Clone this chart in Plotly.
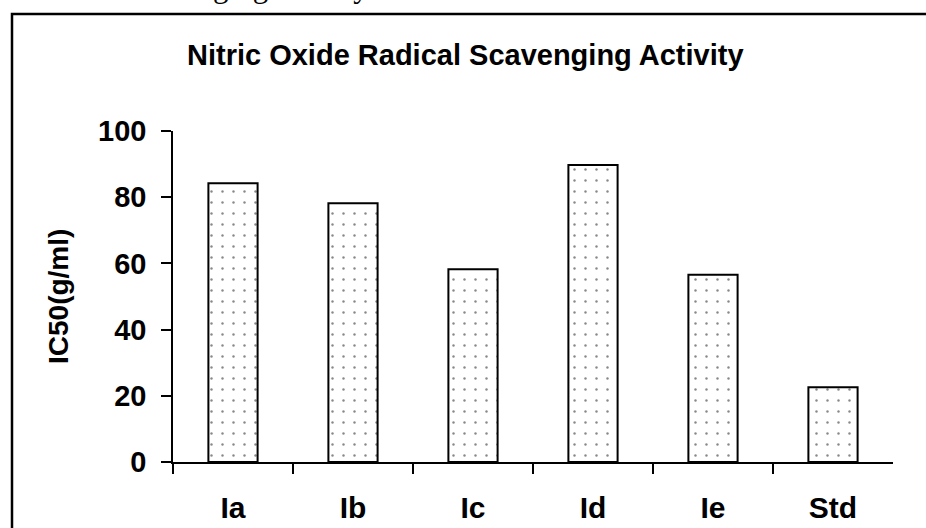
import plotly.graph_objects as go

categories = ["Ia", "Ib", "Ic", "Id", "Ie", "Std"]
ic50_values = [84.2, 78.2, 58.2, 89.7, 56.6, 22.6]
y_tick_values = [0, 20, 40, 60, 80, 100]
chart_title = "Nitric Oxide Radical Scavenging Activity"
y_title = "IC50(g/ml)"
caption_text = "Nitric oxide scavenging activity"

W, H = 926, 528

def px(x):
    return x / W

def py(y):
    return 1 - y / H

fig = go.Figure()
fig.add_trace(go.Bar(
    x=categories,
    y=ic50_values,
    width=0.41,
    marker=dict(
        color="white",
        line=dict(color="black", width=2),
        pattern=dict(shape=".", fgcolor="#111111", bgcolor="white",
                     size=11, solidity=0.04, fillmode="overlay"),
    ),
    showlegend=False,
    hoverinfo="skip",
))

fig.update_layout(
    width=W, height=H,
    margin=dict(l=0, r=0, t=0, b=0, pad=0, autoexpand=False),
    paper_bgcolor="white",
    plot_bgcolor="white",
    xaxis=dict(
        domain=[px(173), px(893)],
        range=[-0.5, 5.5],
        showline=True, linecolor="black", linewidth=1.8,
        ticks="outside", tickson="boundaries", ticklen=10, tickwidth=1.8, tickcolor="black",
        tickfont=dict(family="Liberation Sans, Arial", size=30, color="black", weight="bold"),
        ticklabelstandoff=18,
        showgrid=False, zeroline=False,
    ),
    yaxis=dict(
        domain=[py(462), py(131)],
        range=[0, 100],
        tickvals=y_tick_values,
        showline=True, linecolor="black", linewidth=1.8,
        ticks="outside", ticklen=10, tickwidth=1.8, tickcolor="black",
        tickfont=dict(family="Liberation Sans, Arial", size=29, color="black", weight="bold"),
        ticklabelstandoff=9,
        showgrid=False, zeroline=False,
    ),
)

# y-axis title
fig.add_annotation(
    text=f"<b>{y_title}</b>", xref="paper", yref="paper",
    x=px(58), y=py(296), xanchor="center", yanchor="middle",
    textangle=-90, showarrow=False,
    font=dict(family="Liberation Sans, Arial", size=28, color="black"),
)

# chart title
fig.add_annotation(
    text=f"<b>{chart_title}</b>", xref="paper", yref="paper",
    x=px(466), y=py(55), xanchor="center", yanchor="middle",
    showarrow=False,
    font=dict(family="Liberation Sans, Arial", size=29, color="black"),
)

# cropped caption above the frame (only descenders visible)
fig.add_annotation(
    text=caption_text, xref="paper", yref="paper",
    x=px(371), y=py(-13), xanchor="right", yanchor="middle",
    showarrow=False,
    font=dict(family="Liberation Serif, Times New Roman", size=31, color="black"),
)

# frame around chart
fig.add_shape(
    type="rect", xref="paper", yref="paper",
    x0=px(12), y0=py(14), x1=1.02, y1=-0.02,
    line=dict(color="black", width=2.5), fillcolor="rgba(0,0,0,0)",
    layer="above",
)

fig.write_html(
    "out.html",
    config={"responsive": False, "displayModeBar": False, "staticPlot": True},
    post_script="document.body.style.margin='0px';",
)
